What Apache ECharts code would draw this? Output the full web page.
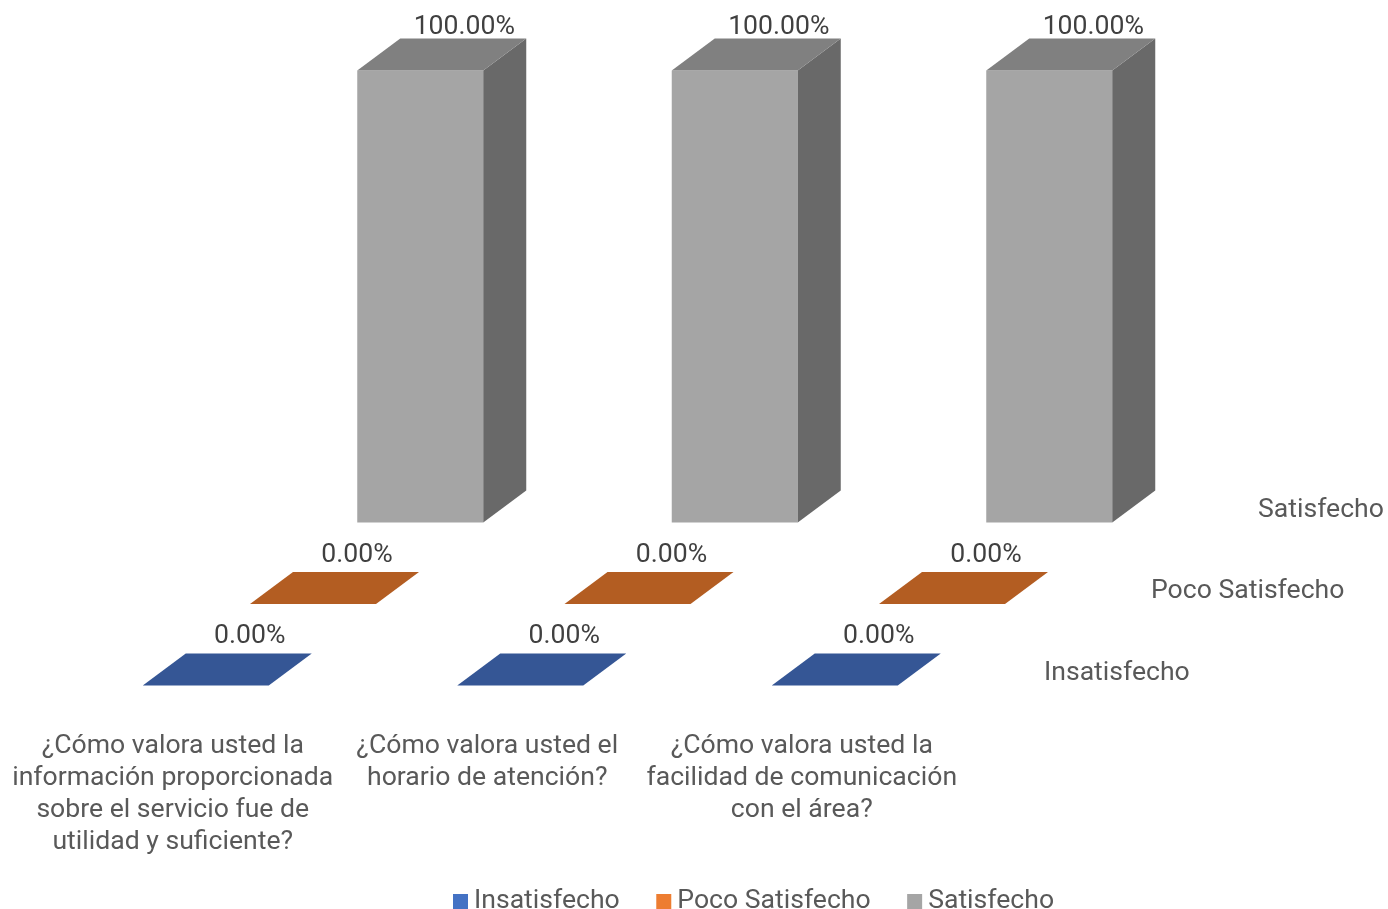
<!DOCTYPE html>
<html><head><meta charset="utf-8">
<style>html,body{margin:0;padding:0;background:#fff}#c{width:1388px;height:909px}</style>
<script src="https://cdn.jsdelivr.net/npm/echarts@6/dist/echarts.min.js"></script>
</head><body><div id="c"></div>
<script>
const categories = [
  "¿Cómo valora usted la\ninformación proporcionada\nsobre el servicio fue de\nutilidad y suficiente?",
  "¿Cómo valora usted el\nhorario de atención?",
  "¿Cómo valora usted la\nfacilidad de comunicación\ncon el área?"
];
const seriesNames = ["Insatisfecho", "Poco Satisfecho", "Satisfecho"];
const insatisfecho = [0, 0, 0];
const pocoSatisfecho = [0, 0, 0];
const satisfecho = [100, 100, 100];
const seriesValues = [insatisfecho, pocoSatisfecho, satisfecho];
const legendColors = ["#4472C4", "#ED7D31", "#A5A5A5"];
const topColors = ["#355695", "#B35D22", "#808080"];
const sideColors = ["#284278", "#8F4A1B", "#696969"];

const FONT = "Roboto";
const FS = 26.6;
const HALF = 63, DX = 43, DY = 32;
const STEP_X = 107.25, STEP_Y = 81.5, FRONT_SHIFT = 33;

function makeRender(d) {
  return function (params, api) {
    const v = api.value(1);
    const base = api.coord([api.value(0), 0]);
    const top = api.coord([api.value(0), v]);
    const cx = base[0] + FRONT_SHIFT + d * STEP_X;
    const y0 = base[1] - d * STEP_Y;
    const y1 = top[1] - d * STEP_Y;
    const l = cx - HALF, r = cx + HALF;
    const kids = [];
    if (v > 0) {
      kids.push({ type: "polygon", shape: { points: [[l, y0], [r, y0], [r, y1], [l, y1]] }, style: { fill: legendColors[d] } });
      kids.push({ type: "polygon", shape: { points: [[r, y0], [r + DX, y0 - DY], [r + DX, y1 - DY], [r, y1]] }, style: { fill: sideColors[d] } });
    }
    kids.push({ type: "polygon", shape: { points: [[l, y1], [r, y1], [r + DX, y1 - DY], [l + DX, y1 - DY]] }, style: { fill: topColors[d] } });
    kids.push({
      type: "text",
      style: {
        text: v.toFixed(2) + "%", x: cx + 44, y: y1 - DY - (v > 0 ? 11.5 : 17),
        align: "center", verticalAlign: "middle", fill: "#404040",
        font: FS + "px " + FONT
      }
    });
    return { type: "group", children: kids };
  };
}

const chart = echarts.init(document.getElementById("c"), null, { renderer: "canvas" });
chart.setOption({
  animation: false,
  backgroundColor: "#fff",
  grid: { left: 15.5, width: 943.5, top: 233.5, bottom: 223.5, containLabel: false },
  xAxis: {
    type: "category", data: categories,
    axisLine: { show: false }, axisTick: { show: false }, splitLine: { show: false },
    axisLabel: { interval: 0, margin: 45, fontFamily: FONT, fontSize: FS, lineHeight: 32, color: "#595959", align: "center", verticalAlign: "top" }
  },
  yAxis: { type: "value", min: 0, max: 100, interval: 100, show: false },
  legend: {
    left: 448, top: 883, itemWidth: 15, itemHeight: 15, itemGap: 36.5, icon: "rect",
    data: seriesNames,
    textStyle: { fontFamily: FONT, fontSize: FS, color: "#595959", padding: [0, 0, 0, 1] }
  },
  graphic: [
    { type: "text", left: 1044, top: 660, style: { text: seriesNames[0], font: FS + "px " + FONT, fill: "#595959" } },
    { type: "text", left: 1151, top: 578, style: { text: seriesNames[1], font: FS + "px " + FONT, fill: "#595959" } },
    { type: "text", left: 1258, top: 497, style: { text: seriesNames[2], font: FS + "px " + FONT, fill: "#595959" } }
  ],
  series: seriesNames.map((name, d) => ({
    name, type: "custom", coordinateSystem: "cartesian2d", clip: false,
    itemStyle: { color: legendColors[d] },
    renderItem: makeRender(d),
    encode: { x: 0, y: 1 },
    data: seriesValues[d].map((v, i) => [i, v])
  }))
});
</script></body></html>
